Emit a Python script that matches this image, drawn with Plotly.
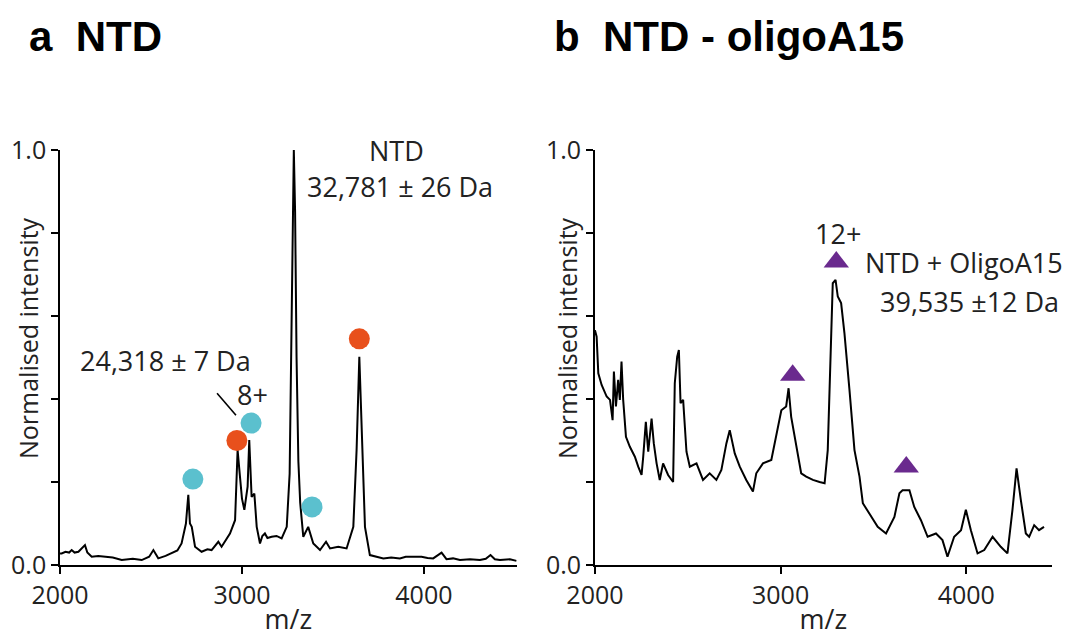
import plotly.graph_objects as go

# ---- Panel a: NTD spectrum ----
mz_a = [2000, 2009, 2030, 2050, 2064, 2080, 2101, 2120, 2137, 2150, 2174, 2210, 2247, 2290,
        2339, 2400, 2449, 2490, 2513, 2540, 2580, 2613, 2645, 2668, 2692, 2705, 2714, 2724,
        2742, 2778, 2810, 2833, 2870, 2888, 2910, 2934, 2962, 2976, 2989, 3000, 3013, 3031,
        3040, 3053, 3068, 3081, 3099, 3112, 3126, 3140, 3163, 3190, 3218, 3246, 3262, 3270,
        3278, 3285, 3292, 3300, 3310, 3320, 3337, 3364, 3392, 3429, 3462, 3484, 3529, 3575,
        3612, 3630, 3645, 3658, 3676, 3703, 3740, 3777, 3820, 3868, 3900, 3941, 3987, 4020,
        4051, 4097, 4124, 4160, 4198, 4253, 4308, 4340, 4366, 4390, 4418, 4473, 4509]
int_a = [0.028, 0.028, 0.032, 0.03, 0.036, 0.03, 0.032, 0.04, 0.048, 0.03, 0.02, 0.022, 0.02, 0.018,
         0.012, 0.015, 0.012, 0.02, 0.036, 0.016, 0.022, 0.028, 0.035, 0.052, 0.10, 0.169, 0.10, 0.092,
         0.044, 0.032, 0.038, 0.036, 0.056, 0.044, 0.06, 0.076, 0.108, 0.277, 0.213, 0.16, 0.133, 0.189,
         0.301, 0.164, 0.172, 0.092, 0.052, 0.07, 0.076, 0.065, 0.068, 0.07, 0.064, 0.092, 0.22, 0.50,
         0.90, 1.0, 0.85, 0.50, 0.25, 0.15, 0.068, 0.092, 0.052, 0.036, 0.056, 0.04, 0.044, 0.04,
         0.092, 0.277, 0.502, 0.317, 0.092, 0.024, 0.02, 0.016, 0.018, 0.016, 0.02, 0.02, 0.02, 0.017,
         0.016, 0.03, 0.014, 0.016, 0.012, 0.014, 0.012, 0.015, 0.024, 0.014, 0.012, 0.014, 0.01]

# markers panel a
red_mz = [2972, 3291, 3645]
red_val = [0.30, 1.03, 0.545]
blue_mz = [2730, 3050, 3385]
blue_val = [0.207, 0.342, 0.14]

# ---- Panel b: NTD - oligoA15 spectrum ----
mz_b = [2000, 2009, 2018, 2036, 2063, 2081, 2095, 2102, 2113, 2125, 2134, 2143, 2152, 2167,
        2188, 2215, 2233, 2251, 2260, 2274, 2287, 2305, 2317, 2332, 2349, 2367, 2394, 2421,
        2430, 2443, 2452, 2461, 2475, 2493, 2511, 2547, 2582, 2618, 2654, 2681, 2708, 2726,
        2753, 2780, 2815, 2851, 2869, 2905, 2950, 2977, 3004, 3030, 3043, 3057, 3084, 3111,
        3138, 3174, 3210, 3237, 3254, 3272, 3281, 3296, 3308, 3326, 3344, 3371, 3398, 3425,
        3443, 3478, 3523, 3568, 3613, 3640, 3657, 3694, 3720, 3756, 3792, 3837, 3872, 3899,
        3935, 3972, 3998, 4025, 4061, 4097, 4142, 4186, 4222, 4249, 4271, 4294, 4321, 4339,
        4366, 4392, 4419]
int_b = [0.566, 0.55, 0.462, 0.434, 0.406, 0.398, 0.349, 0.466, 0.382, 0.446, 0.398, 0.49, 0.398, 0.309,
         0.285, 0.261, 0.237, 0.217, 0.261, 0.345, 0.273, 0.353, 0.293, 0.245, 0.205, 0.245, 0.217, 0.20,
         0.438, 0.502, 0.518, 0.39, 0.398, 0.273, 0.237, 0.245, 0.205, 0.221, 0.205, 0.229, 0.293, 0.325,
         0.269, 0.237, 0.205, 0.177, 0.221, 0.245, 0.253, 0.309, 0.373, 0.382, 0.426, 0.357, 0.285, 0.221,
         0.213, 0.205, 0.20, 0.197, 0.277, 0.518, 0.679, 0.687, 0.647, 0.631, 0.558, 0.422, 0.277, 0.213,
         0.149, 0.124, 0.092, 0.076, 0.116, 0.173, 0.18, 0.18, 0.14, 0.108, 0.068, 0.076, 0.06, 0.02,
         0.068, 0.084, 0.133, 0.084, 0.028, 0.036, 0.068, 0.044, 0.028, 0.133, 0.233, 0.157, 0.076, 0.068,
         0.096, 0.084, 0.092]

tri_mz = [3065, 3300, 3677]
tri_val = [0.457, 0.73, 0.236]

ytick_vals = [0, 0.2, 0.4, 0.6, 0.8, 1.0]
ytick_text = ["0.0", "", "", "", "", "1.0"]
xtick_vals = [2000, 3000, 4000]
xtick_text = ["2000", "3000", "4000"]

RED = "#E8501C"
BLUE = "#5BC0CE"
PURPLE = "#6A2A8E"
FONT = "Open Sans"
TXT_COLOR = "#222"

fig = go.Figure()
fig.add_trace(go.Scatter(x=mz_a, y=int_a, mode="lines", line=dict(color="black", width=2),
                         xaxis="x", yaxis="y", showlegend=False))
fig.add_trace(go.Scatter(x=red_mz, y=red_val, mode="markers", marker=dict(color=RED, size=21),
                         xaxis="x", yaxis="y", cliponaxis=False, showlegend=False))
fig.add_trace(go.Scatter(x=blue_mz, y=blue_val, mode="markers", marker=dict(color=BLUE, size=21),
                         xaxis="x", yaxis="y", cliponaxis=False, showlegend=False))
fig.add_trace(go.Scatter(x=mz_b, y=int_b, mode="lines", line=dict(color="black", width=2),
                         xaxis="x2", yaxis="y2", showlegend=False))
fig.add_trace(go.Scatter(x=tri_mz, y=tri_val, mode="markers",
                         marker=dict(color=PURPLE, size=22, symbol="triangle-up"),
                         xaxis="x2", yaxis="y2", cliponaxis=False, showlegend=False))

axis_common = dict(showgrid=False, zeroline=False, showline=True, linecolor="black", linewidth=1.6,
                   ticks="outside", ticklen=7, tickwidth=1.6, tickcolor="black", automargin=False,
                   tickfont=dict(family=FONT, size=25, color=TXT_COLOR))
title_font = dict(family=FONT, size=27, color=TXT_COLOR)
ytitle_font = dict(family=FONT, size=25, color=TXT_COLOR)

fig.update_layout(
    width=1072, height=637,
    margin=dict(l=0, r=0, t=0, b=0),
    paper_bgcolor="white", plot_bgcolor="white",
    xaxis=dict(domain=[0.056, 0.482], range=[2000, 4510], tickvals=xtick_vals, ticktext=xtick_text,
               anchor="y", title=dict(text="m/z", font=title_font, standoff=0),
               **axis_common),
    yaxis=dict(domain=[0.113, 0.7645], range=[0, 1.0], tickvals=ytick_vals, ticktext=ytick_text,
               anchor="x", **axis_common),
    xaxis2=dict(domain=[0.555, 0.981], range=[2000, 4460], tickvals=xtick_vals, ticktext=xtick_text,
                anchor="y2", title=dict(text="m/z", font=title_font, standoff=0),
                **axis_common),
    yaxis2=dict(domain=[0.113, 0.7645], range=[0, 1.0], tickvals=ytick_vals, ticktext=ytick_text,
                anchor="x2", **axis_common),
)

txt = dict(family=FONT, size=27, color=TXT_COLOR)
ann = [
    dict(x=3291, y=1.104, xref="x", yref="y", text="10+", showarrow=False, font=txt),
    dict(x=3852, y=1.0, xref="x", yref="y", text="NTD", showarrow=False, font=txt),
    dict(x=3868, y=0.913, xref="x", yref="y", text="32,781 ± 26 Da", showarrow=False, font=txt),
    dict(x=2577, y=0.494, xref="x", yref="y", text="24,318 ± 7 Da", showarrow=False, font=txt),
    dict(x=3060, y=0.41, xref="x", yref="y", text="8+", showarrow=False, font=txt),
    dict(x=3310, y=0.80, xref="x2", yref="y2", text="12+", showarrow=False, font=txt),
    dict(x=3989, y=0.728, xref="x2", yref="y2", text="NTD + OligoA15", showarrow=False, font=txt),
    dict(x=4016, y=0.634, xref="x2", yref="y2", text="39,535 ±12 Da", showarrow=False, font=txt),
    # y-axis titles
    dict(x=28 / 1072, y=1 - 338 / 637, xref="paper", yref="paper", textangle=-90,
         xanchor="center", yanchor="middle",
         text="Normalised intensity", showarrow=False, font=ytitle_font),
    dict(x=567 / 1072, y=1 - 338 / 637, xref="paper", yref="paper", textangle=-90,
         xanchor="center", yanchor="middle",
         text="Normalised intensity", showarrow=False, font=ytitle_font),
    # panel titles
    dict(x=27 / 1072, y=1 - 36 / 637, xref="paper", yref="paper", xanchor="left", yanchor="middle",
         text="<b>a  NTD</b>", showarrow=False, font=dict(family="Liberation Sans", size=42, color="black")),
    dict(x=552 / 1072, y=1 - 36 / 637, xref="paper", yref="paper", xanchor="left", yanchor="middle",
         text="<b>b  NTD - oligoA15</b>", showarrow=False, font=dict(family="Liberation Sans", size=42, color="black")),
]
fig.update_layout(annotations=ann)
fig.add_shape(type="line", xref="x", yref="y", x0=2863, y0=0.414, x1=2967, y1=0.361,
              line=dict(color="black", width=1.6))

fig.write_html("out.html")
